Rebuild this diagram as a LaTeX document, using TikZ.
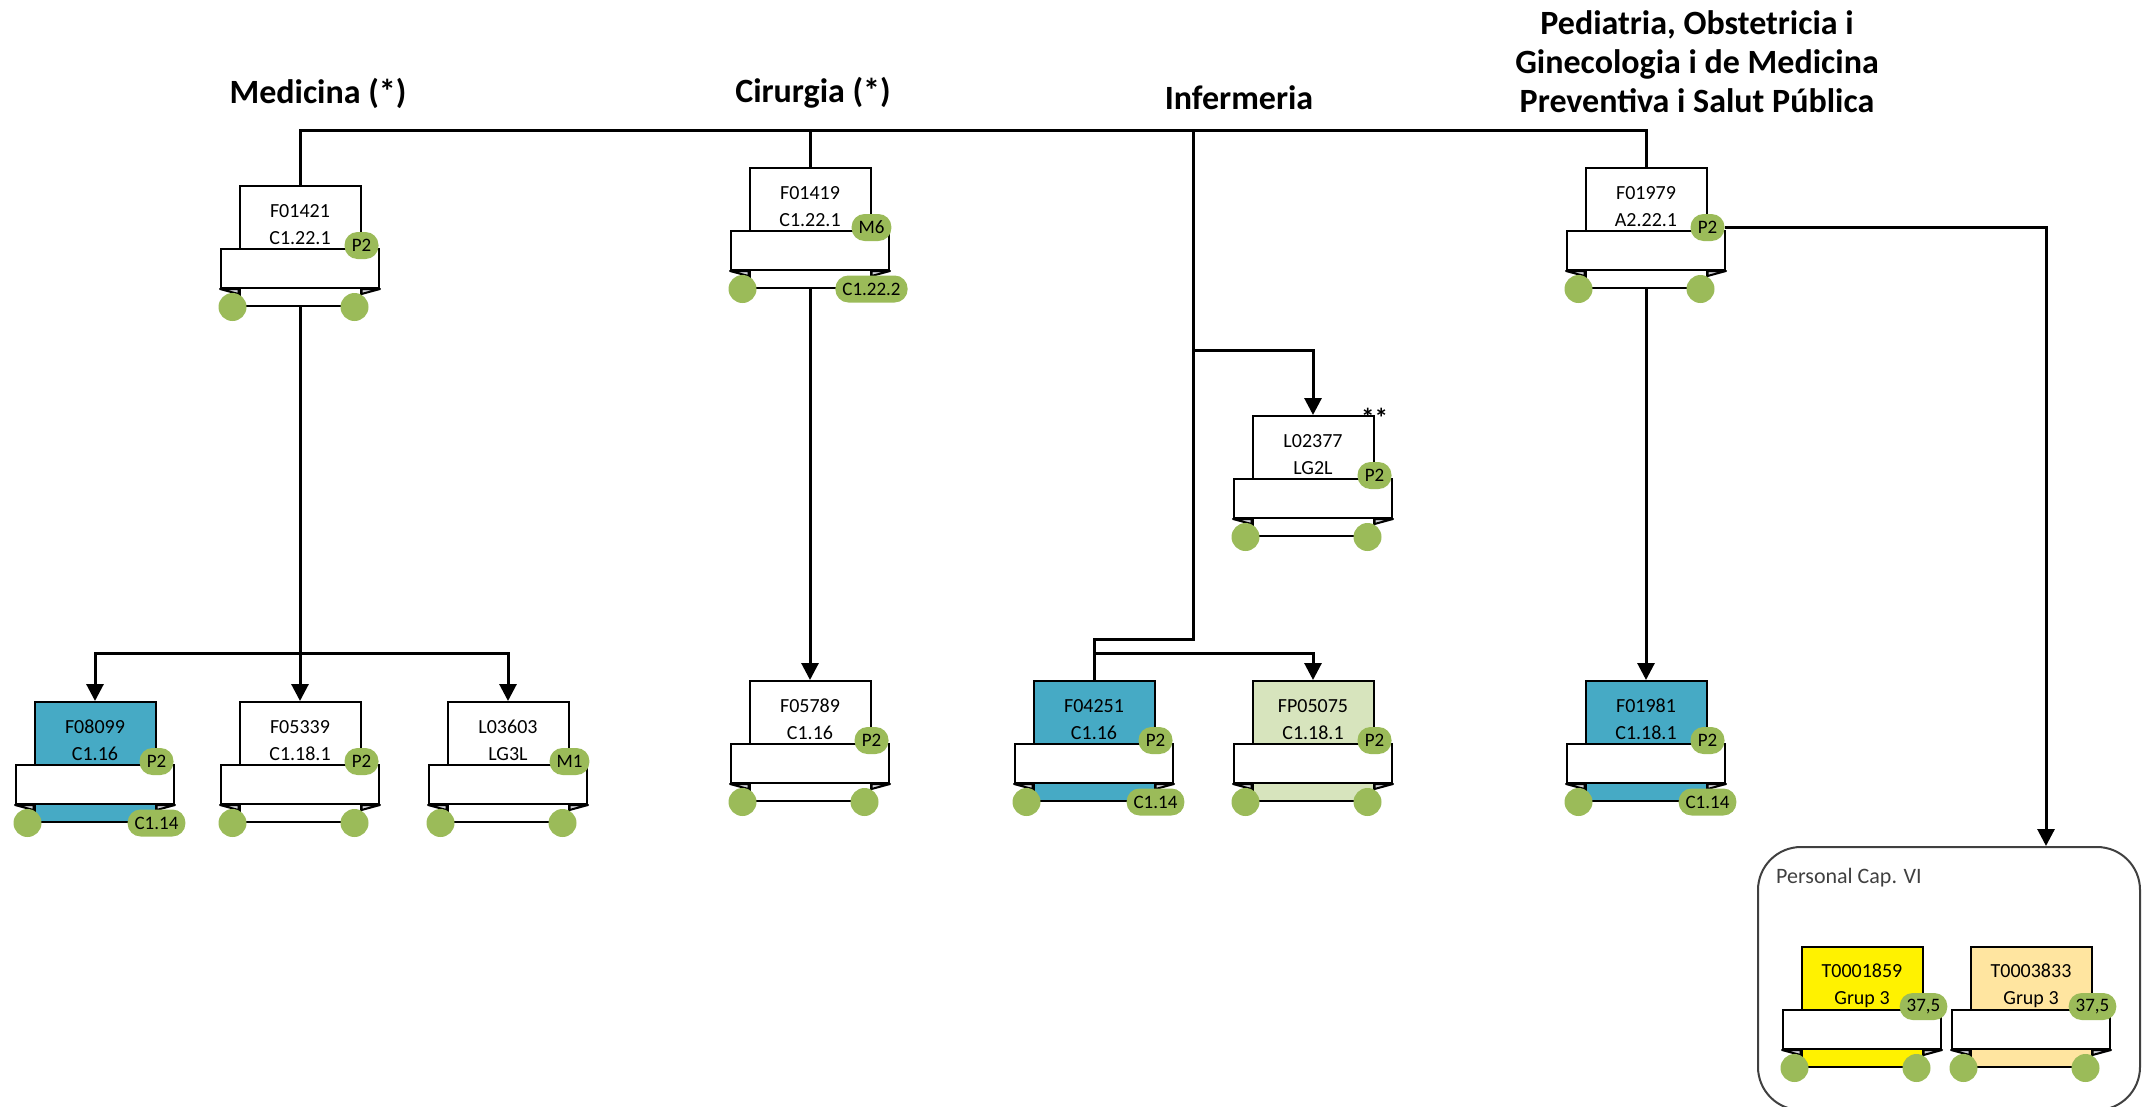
\documentclass[tikz,border=0pt]{standalone}
\usepackage{fontspec}
\setmainfont{Carlito}
\usetikzlibrary{positioning,arrows.meta}

\definecolor{badgegreen}{HTML}{9BBB59}
\definecolor{aqua}{HTML}{46AAC5}
\definecolor{palegreen}{HTML}{D7E4BD}
\definecolor{peach}{HTML}{FFE5A0}
\definecolor{flapgrey}{HTML}{CFD0D6}
\definecolor{capgrey}{HTML}{404040}

\begin{document}
\begin{tikzpicture}[
x=1pt,y=-1pt,
>={Triangle[length=17pt,width=17pt]},
wire/.style={line width=3pt},
dept/.style={font=\bfseries\fontsize{34}{39}\selectfont,align=center},
body/.style={draw,line width=2pt,anchor=north,minimum width=121pt,
  minimum height=77pt,inner sep=0pt,align=center,
  font=\fontsize{20}{27}\selectfont},
foot/.style={draw,line width=2pt,minimum width=121pt,minimum height=41pt,
  inner sep=0pt},
band/.style={draw,line width=2pt,fill=white,minimum width=158pt,
  minimum height=39pt,inner sep=0pt},
flap/.style={draw,fill=flapgrey,line width=2pt,line join=round},
knob/.style={circle,fill=badgegreen,minimum size=28pt,inner sep=0pt},
badge/.style={rectangle,rounded corners=13pt,fill=badgegreen,
  minimum height=27pt,minimum width=34pt,inner xsep=7pt,inner ysep=0pt,
  font=\fontsize{19}{19}\selectfont},
capbox/.style={draw=capgrey,line width=2pt,rounded corners=43pt,
  minimum width=382pt,minimum height=263pt}
]
\useasboundingbox (0,0) rectangle (2142,1106);

% departaments
\node[dept] (medicina) at (318,93) {Medicina (*)};
\node[dept] (cirurgia) at (813,93) {Cirurgia (*)};
\node[dept] (infermeria) at (1239,98) {Infermeria};
\node[dept] (pediatria) at (1697,62) {Pediatria, Obstetricia i\\Ginecologia i de Medicina\\Preventiva i Salut Pública};

% personal cap. VI
\node[capbox] (capvi) at (1949,978.5) {};
\node[anchor=base west,inner sep=0pt,text=capgrey,
  font=\fontsize{22}{26}\selectfont] (capvi-t) at (1776,883) {Personal Cap. VI};

% places
\foreach \id/\px/\py/\col/\la/\lb/\tg in {
f01421/300/185/white/F01421/C1.22.1/P2,
f01419/810/167/white/F01419/C1.22.1/M6,
l02377/1313/415/white/L02377/LG2L/P2,
f01979/1646/167/white/F01979/A2.22.1/P2,
f08099/95/701/aqua/F08099/C1.16/P2,
f05339/300/701/white/F05339/C1.18.1/P2,
l03603/508/701/white/L03603/LG3L/M1,
f05789/810/680/white/F05789/C1.16/P2,
f04251/1094/680/aqua/F04251/C1.16/P2,
fp05075/1313/680/palegreen/FP05075/C1.18.1/P2,
f01981/1646/680/aqua/F01981/C1.18.1/P2,
t0001859/1862/946/yellow/T0001859/Grup 3/{37,5},
t0003833/2031/946/peach/T0003833/Grup 3/{37,5}}{
\node[body,fill=\col] (\id) at (\px,\py) {\la\\\lb};
\node[foot,fill=\col,below=0pt of \id] (\id-f) {};
\node[band,below=-16pt of \id] (\id-b) {};
\filldraw[flap] (\id-b.south west) -- (\id-b.south west -| \id-f.west) -- ++(0,5) -- cycle;
\filldraw[flap] (\id-b.south east) -- (\id-b.south east -| \id-f.east) -- ++(0,5) -- cycle;
\node[knob,xshift=-6pt] (\id-l) at (\id-f.south west) {};
\node[badge,yshift=2.5pt] (\id-p) at (\id-b.north -| \id.east) {\tg};
}

\foreach \id in {f01421,l02377,f01979,f05339,l03603,f05789,fp05075,t0001859,t0003833}
  \node[knob,xshift=-7pt] (\id-r) at (\id-f.south east) {};

\foreach \id/\tg in {f01419/C1.22.2,f08099/C1.14,f04251/C1.14,f01981/C1.14}
  \node[badge] (\id-c) at (\id-f.south east) {\tg};

\node[inner sep=0pt,font=\bfseries\fontsize{27}{27}\selectfont] (l02377-s) at ([yshift=-3pt]l02377.north east) {**};

% connexions
\coordinate (busl) at (300,130);
\coordinate (busr) at (1646,130);
\coordinate (infbus) at (1193,130);
\coordinate (infmid) at (1193,350);
\coordinate (infbend) at (1193,639);
\coordinate (medjoin) at (300,653);

\draw[wire] (f01421.north) -- (busl) -- (busr) -- (f01979.north);
\draw[wire] (f01419.north) -- (f01419.north |- busl);
\draw[wire] (infbus) -- (infbend) -| (f04251.north);
\draw[wire,->] (infmid) -| (l02377.north);
\draw[wire,->] (f04251.north |- medjoin) -| (fp05075.north);
\draw[wire,->] (f01421-f.south) -- (f05339.north);
\draw[wire,<->] (f08099.north) |- (medjoin) -| (l03603.north);
\draw[wire,->] (f01419-f.south) -- (f05789.north);
\draw[wire,->] (f01979-f.south) -- (f01981.north);
\draw[wire,->] (f01979-p.east) -| ([xshift=97pt]capvi.north);

\end{tikzpicture}
\end{document}
